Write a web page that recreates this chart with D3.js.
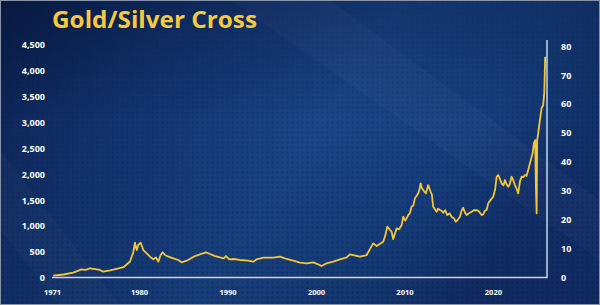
<!DOCTYPE html>
<html><head><meta charset="utf-8">
<script src="https://cdn.jsdelivr.net/npm/d3@7"></script>
<style>html,body{margin:0;padding:0;background:#0b2352;}svg{display:block;}</style>
</head><body><svg id="c" width="600" height="305"></svg>
<script>
const title = "Gold/Silver Cross";
const years = [1971.13,1972.2,1973.2,1974.07,1974.5,1974.93,1975.96,1976.27,1977.0,1977.69,1978.4,1979.07,1979.41,1979.58,1979.76,1979.93,1980.19,1980.49,1980.87,1981.24,1981.62,1981.92,1982.18,1982.45,1982.68,1982.94,1983.31,1983.88,1984.44,1984.82,1985.39,1986.33,1986.89,1987.57,1988.02,1988.59,1989.15,1989.6,1989.83,1990.2,1990.66,1991.41,1992.35,1992.92,1993.3,1994.05,1995.18,1995.93,1996.69,1997.44,1998.19,1998.95,1999.7,2000.26,2000.64,2001.21,2001.95,2002.71,2003.47,2003.84,2004.97,2005.73,2006.47,2006.86,2007.6,2007.85,2008.06,2008.55,2008.73,2009.12,2009.4,2009.68,2009.86,2010.1,2010.43,2010.6,2010.81,2011.0,2011.19,2011.56,2011.7,2011.83,2011.95,2012.12,2012.25,2012.43,2012.69,2012.96,2013.1,2013.25,2013.45,2013.64,2013.8,2014.01,2014.2,2014.38,2014.6,2014.84,2015.1,2015.33,2015.6,2015.82,2016.0,2016.27,2016.45,2016.64,2016.85,2017.03,2017.3,2017.59,2017.85,2018.16,2018.4,2018.72,2018.9,2019.1,2019.3,2019.47,2019.75,2020.03,2020.25,2020.42,2020.6,2020.8,2020.98,2021.2,2021.36,2021.55,2021.73,2021.9,2022.11,2022.3,2022.49,2022.7,2022.86,2023.05,2023.24,2023.45,2023.62,2023.8,2023.99,2024.18,2024.49,2024.63,2024.78,2024.86,2024.94,2025.0,2025.12,2025.31,2025.5,2025.68,2025.8,2025.91];
const values = [37,60,95,160,150,180,147,115,140,170,200,310,490,673,532,630,673,532,468,403,353,390,307,436,488,436,403,372,340,295,326,416,449,488,455,416,390,372,416,353,359,340,326,307,353,384,384,403,359,326,287,276,295,256,224,276,307,353,390,450,403,436,661,609,692,820,982,885,744,950,930,1014,1175,1100,1207,1240,1367,1390,1529,1626,1700,1819,1740,1690,1660,1626,1786,1657,1600,1367,1320,1271,1330,1304,1290,1252,1300,1207,1240,1175,1140,1078,1110,1175,1290,1349,1250,1207,1240,1271,1300,1304,1280,1207,1220,1290,1310,1433,1500,1560,1700,1946,1979,1900,1819,1780,1882,1800,1753,1800,1946,1880,1786,1700,1626,1850,1946,1940,1979,1960,2075,2204,2397,2590,2654,1753,1240,2654,2783,3040,3265,3329,3554,4260];
const xTicks = [1971,1980,1990,2000,2010,2020];
const leftTicks = [0,500,1000,1500,2000,2500,3000,3500,4000,4500];
const rightTicks = [0,10,20,30,40,50,60,70,80];

const svg = d3.select("#c");
const W = 600, H = 305;
const defs = svg.append("defs");
const bg = defs.append("linearGradient").attr("id","bg").attr("x1","0").attr("y1","0").attr("x2","1").attr("y2","0.35");
[[0,"#0a1e4a"],[0.3,"#12336e"],[0.6,"#1a4586"],[0.85,"#163e7c"],[1,"#11306a"]].forEach(s=>bg.append("stop").attr("offset",s[0]).attr("stop-color",s[1]));
const vg = defs.append("linearGradient").attr("id","vg").attr("x1","0").attr("y1","0").attr("x2","0").attr("y2","1");
[[0,"#000820",0.25],[0.4,"#000820",0],[1,"#000820",0.15]].forEach(s=>vg.append("stop").attr("offset",s[0]).attr("stop-color",s[1]).attr("stop-opacity",s[2]));
const pat = defs.append("pattern").attr("id","dots").attr("width",5).attr("height",5).attr("patternUnits","userSpaceOnUse");
pat.append("circle").attr("cx",2.5).attr("cy",2.5).attr("r",0.9).attr("fill","#06163a").attr("opacity",0.35);
const dm = defs.append("linearGradient").attr("id","dm").attr("x1","0").attr("y1","0").attr("x2","0.3").attr("y2","1");
[[0,"#fff",0],[0.5,"#fff",0.6],[1,"#fff",1]].forEach(s=>dm.append("stop").attr("offset",s[0]).attr("stop-color",s[1]).attr("stop-opacity",s[2]));
defs.append("mask").attr("id","dmask").append("rect").attr("width",W).attr("height",H).attr("fill","url(#dm)");

svg.append("rect").attr("width",W).attr("height",H).attr("fill","url(#bg)");
svg.append("rect").attr("width",W).attr("height",H).attr("fill","url(#vg)");
svg.append("polygon").attr("points","230,0 330,0 600,200 600,260").attr("fill","#ffffff").attr("opacity",0.025);
svg.append("polygon").attr("points","0,150 120,305 60,305 0,230").attr("fill","#ffffff").attr("opacity",0.02);
svg.append("rect").attr("width",W).attr("height",H).attr("fill","url(#dots)").attr("mask","url(#dmask)");
svg.append("rect").attr("x",0.5).attr("y",0.5).attr("width",W-1).attr("height",H-1).attr("fill","none").attr("stroke","#8a93a3").attr("stroke-width",1);

const x = d3.scaleLinear().domain([1971,1980,2026]).range([52,139,546]);
const yL = d3.scaleLinear().domain([0,4500]).range([277.6,44.4]);
const yR = d3.scaleLinear().domain([0,80]).range([277,46]);

const font = "'Open Sans', 'DejaVu Sans', sans-serif";

svg.append("text").attr("x",52).attr("y",28).text(title)
  .attr("font-family",font).attr("font-weight",700).attr("font-size",23)
  .attr("fill","#f8c93e").attr("textLength",205).attr("lengthAdjust","spacingAndGlyphs");

const gL = svg.append("g").attr("transform","translate(45,0)")
  .call(d3.axisLeft(yL).tickValues(leftTicks).tickSize(0).tickPadding(0).tickFormat(d3.format(",")));
gL.select(".domain").remove();
const gR = svg.append("g").attr("transform","translate(561,0)")
  .call(d3.axisRight(yR).tickValues(rightTicks).tickSize(0).tickPadding(0));
gR.select(".domain").remove();
const gX = svg.append("g").attr("transform","translate(0,292)")
  .call(d3.axisBottom(x).tickValues(xTicks).tickSize(0).tickPadding(0).tickFormat(d3.format("d")));
gX.select(".domain").remove();
[gL,gR,gX].forEach(g=>g.selectAll("text").attr("fill","#ffffff").attr("font-family",font).attr("font-weight",700).attr("font-size",9));
gL.selectAll("text").attr("dy","0.35em");
gR.selectAll("text").attr("dy","0.35em");
gX.selectAll("text").attr("dy","0.35em").attr("font-size",7.5);

svg.append("path")
  .attr("d", d3.line()([[x(1971), yL(0)],[x(2026)+1, yL(0)],[x(2026)+1, yR(80)-6]]))
  .attr("fill","none").attr("stroke","#c9d3e6").attr("stroke-width",1.5);

const data = years.map((yr,i)=>({yr, v: values[i]}));
svg.append("path").datum(data)
  .attr("d", d3.line().x(d=>x(d.yr)).y(d=>yL(d.v)))
  .attr("fill","none").attr("stroke","#f6c636").attr("stroke-width",1.8).attr("stroke-linejoin","round");
</script></body></html>
